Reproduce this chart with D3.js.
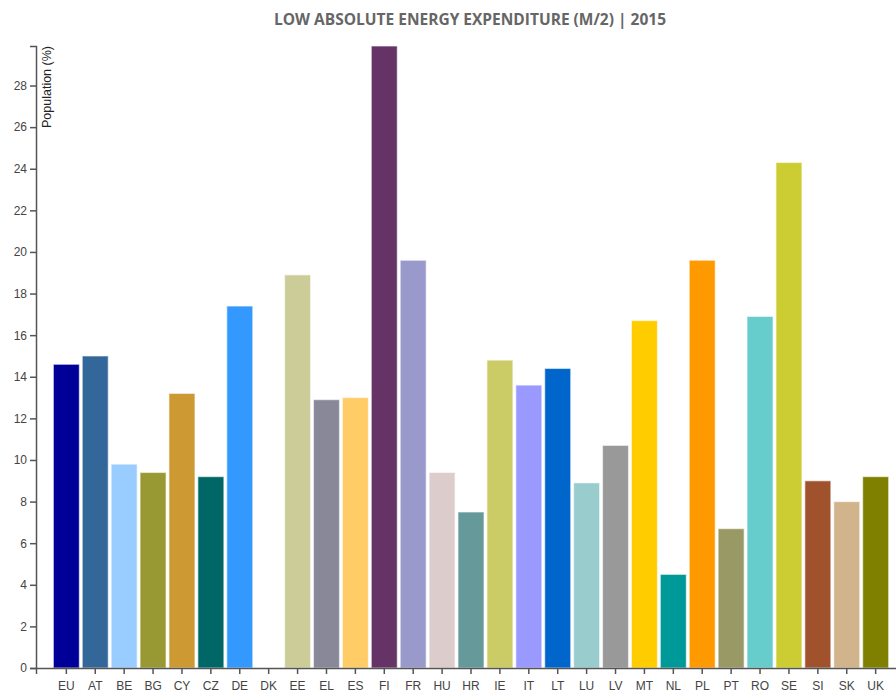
<!DOCTYPE html>
<html>
<head>
<meta charset="utf-8">
<script src="https://cdn.jsdelivr.net/npm/d3@7"></script>
<style>
  html, body { margin: 0; padding: 0; background: #fff; }
  svg { display: block; overflow: hidden; }
  .axis text { font-family: "Liberation Sans", Arial, sans-serif; font-size: 12px; fill: #444; }
  .axis path, .axis line { stroke: #555; stroke-width: 1.5px; fill: none; }
  .title { font-family: "Open Sans", sans-serif; font-weight: bold; font-size: 15.5px; fill: #666; }
</style>
</head>
<body>
<script>
// Share of population with low absolute energy expenditure, 2015
const countries = ["EU","AT","BE","BG","CY","CZ","DE","DK","EE","EL","ES","FI","FR","HU","HR",
                   "IE","IT","LT","LU","LV","MT","NL","PL","PT","RO","SE","SI","SK","UK"];
const values = [14.6, 15.0, 9.8, 9.4, 13.2, 9.2, 17.4, 0, 18.9, 12.9, 13.0, 29.9, 19.6, 9.4, 7.5,
                14.8, 13.6, 14.4, 8.9, 10.7, 16.7, 4.5, 19.6, 6.7, 16.9, 24.3, 9.0, 8.0, 9.2];
const colors = ["#000099","#336699","#99ccff","#999933","#cc9933","#006666","#3399ff","#993333",
                "#cccc99","#888899","#ffcc66","#663366","#9999cc","#ddcccc","#669999",
                "#cccc66","#9999ff","#0066cc","#99cccc","#999999","#ffcc00","#009999",
                "#ff9900","#999966","#66cccc","#cccc33","#a0522d","#d2b48c","#808000"];
const yTicks = d3.range(0, 30, 2);
const titleText = "LOW ABSOLUTE ENERGY EXPENDITURE (M/2) | 2015";
const yLabel = "Population (%)";

const W = 896, H = 693;
const svg = d3.select("body").append("svg").attr("width", W).attr("height", H);

const x = d3.scaleBand().domain(countries).range([36, 906]).paddingInner(0.1).paddingOuter(0.6);
const y = d3.scaleLinear().domain([0, d3.max(values)]).range([668, 46]);

svg.append("text").attr("class", "title")
  .attr("x", 470).attr("y", 25).attr("text-anchor", "middle").text(titleText);

const data = countries.map((c, i) => ({ c, v: values[i], col: colors[i] }));

svg.append("g").selectAll("rect").data(data).join("rect")
  .attr("x", d => x(d.c))
  .attr("y", d => y(d.v))
  .attr("width", x.bandwidth())
  .attr("height", d => y(0) - y(d.v))
  .attr("fill", d => d.col)
  .attr("stroke", "rgba(255,255,255,0.55)")
  .attr("stroke-width", 1.2);

const gx = svg.append("g").attr("class", "axis")
  .attr("transform", `translate(0,${y(0)})`)
  .call(d3.axisBottom(x).tickSize(6).tickSizeOuter(6));
gx.selectAll("text").attr("dy", "1.05em");

const gy = svg.append("g").attr("class", "axis")
  .attr("transform", "translate(36,0)")
  .call(d3.axisLeft(y).tickValues(yTicks).tickFormat(d3.format("d")));

gy.append("text")
  .attr("transform", "rotate(-90)")
  .attr("x", -46).attr("y", 6).attr("dy", ".71em")
  .attr("text-anchor", "end")
  .style("fill", "#222")
  .style("font-size", "12.5px")
  .text(yLabel);
</script>
</body>
</html>
